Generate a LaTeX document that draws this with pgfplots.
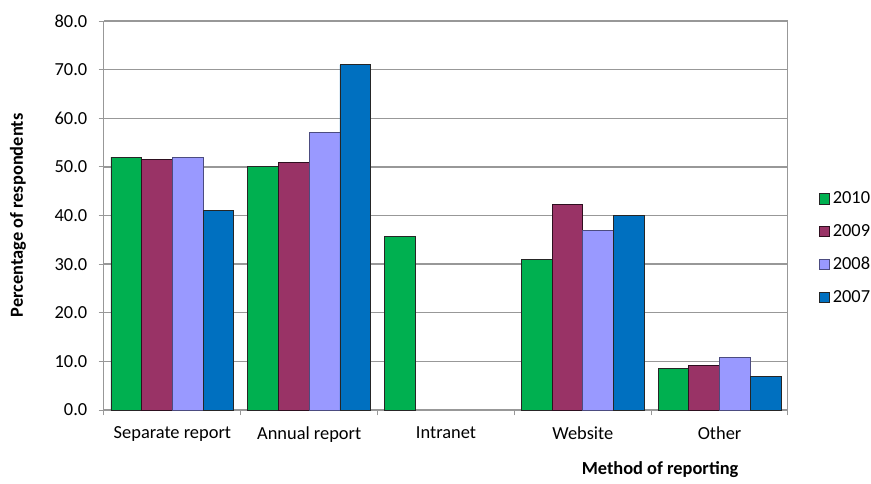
\documentclass[border=0pt]{standalone}
\usepackage{fontspec}
\setmainfont{Carlito}
\usepackage{pgfplots}
\pgfplotsset{compat=1.18}
\definecolor{c2010}{HTML}{00B050}
\definecolor{c2009}{HTML}{993366}
\definecolor{c2008}{HTML}{9999FF}
\definecolor{c2007}{HTML}{0070C0}
\definecolor{gridgray}{HTML}{989898}
\newcommand{\chartfont}{\fontsize{13.8pt}{16pt}\selectfont}
\begin{document}
\begin{tikzpicture}
\useasboundingbox (-78pt,-54.75pt) rectangle (575.25pt,307.5pt);
\begin{axis}[
  scale only axis, width=513pt, height=291.75pt,
  ybar=0pt, bar width=0.2245,
  xmin=-0.5, xmax=4.5, ymin=0, ymax=80,
  xtick={0,1,2,3,4},
  xticklabels={Separate report, Annual report, Intranet, Website, Other},
  minor xtick={-0.5,0.5,1.5,2.5,3.5,4.5},
  major x tick style={draw=none},
  minor x tick style={draw=gridgray, line width=0.75pt},
  minor tick length=4pt,
  major tick length=4pt,
  tick align=outside, tick pos=left,
  ytick={0,10,...,80},
  y tick style={draw=gridgray, line width=0.75pt},
  ymajorgrids, grid style={draw=gridgray, line width=1pt},
  axis line style={draw=gridgray, line width=0.75pt},
  tick label style={font=\chartfont},
  yticklabel style={xshift=-5pt, /pgf/number format/.cd, fixed, fixed zerofill, precision=1, assume math mode=true},
  xticklabel style={yshift=-5pt},
  ylabel={Percentage of respondents},
  every axis y label/.style={at={(axis description cs:-0.1257,0.5)}, rotate=90, anchor=center, font=\chartfont\bfseries},
  xlabel={Method of reporting},
  every axis x label/.style={at={(axis description cs:0.813,0)}, anchor=center, yshift=-45pt, font=\chartfont\bfseries},
  legend style={at={(axis description cs:1.0448,0.416)}, anchor=west, draw=none, fill=none, font=\chartfont, row sep=10pt, inner sep=0pt},
  legend cell align=left,
  legend image code/.code={\draw[#1] (0pt,-3.9pt) rectangle (7.8pt,3.9pt);},
]
\addplot[fill=c2010, draw=black!85, line width=0.6pt] coordinates {(0,52.0) (1,50.0) (2,35.7) (3,31.0) (4,8.5)};
\addplot[fill=c2009, draw=black!70!c2009, line width=0.6pt] coordinates {(0,51.5) (1,51.0) (3,42.2) (4,9.2)};
\addplot[fill=c2008, draw=black!50!c2008, line width=0.6pt] coordinates {(0,52.0) (1,57.0) (3,37.0) (4,10.8)};
\addplot[fill=c2007, draw=black!85, line width=0.6pt] coordinates {(0,41.0) (1,71.0) (3,40.0) (4,6.9)};
\legend{2010,2009,2008,2007}
\end{axis}
\end{tikzpicture}
\end{document}
